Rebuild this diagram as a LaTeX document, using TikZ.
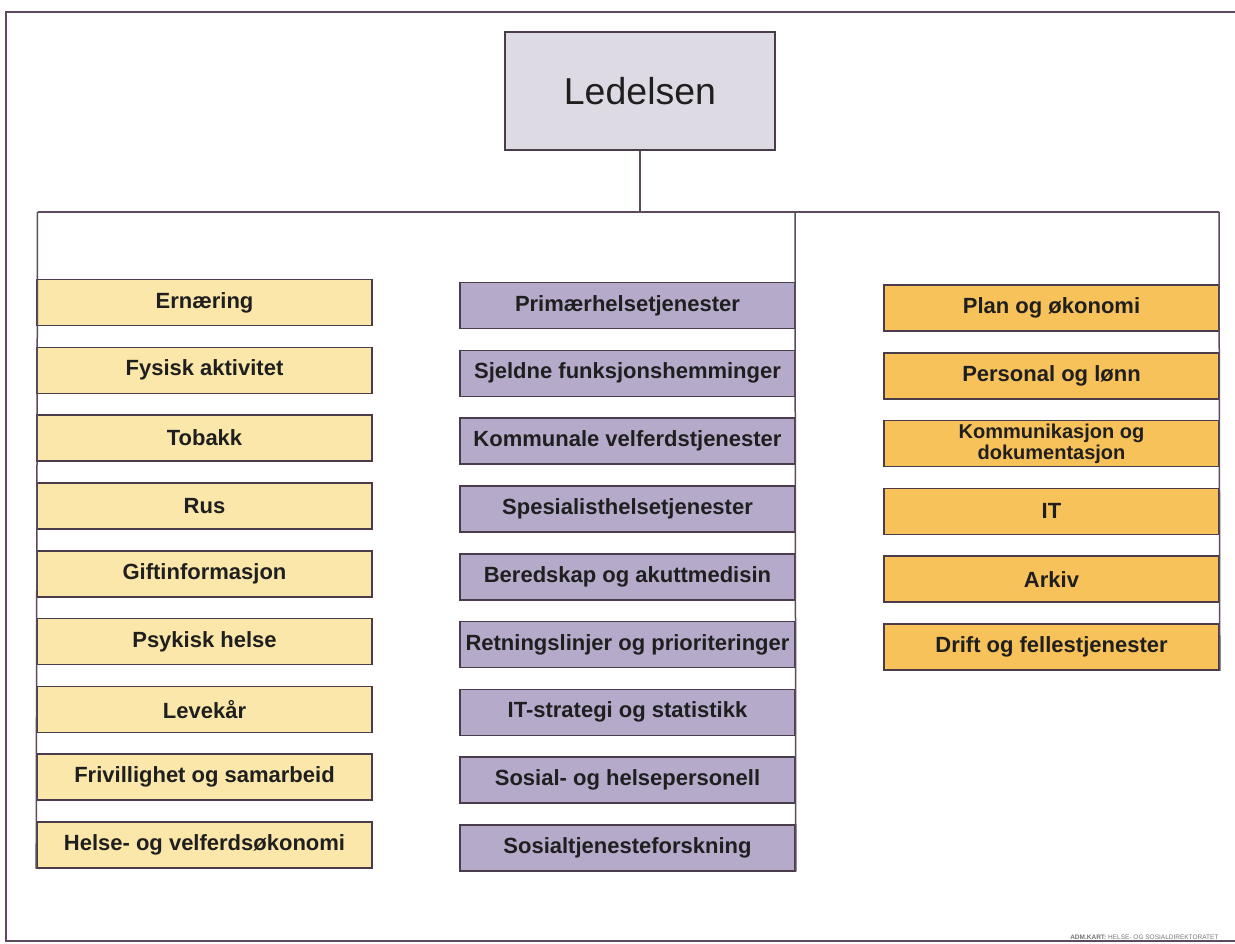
\documentclass[tikz,border=0pt]{standalone}
\usepackage{fontspec}
\setmainfont{Liberation Sans}
\usetikzlibrary{positioning}
\definecolor{boxline}{HTML}{4A3C4A}
\definecolor{treeline}{HTML}{5E4A5E}
\definecolor{topfill}{HTML}{DEDAE3}
\definecolor{paleyellow}{HTML}{FBE7A9}
\definecolor{lavender}{HTML}{B6AACB}
\definecolor{orangebox}{HTML}{F8C25A}
\tikzset{
    every node/.style={font=\bfseries\fontsize{22}{24}\selectfont, text=black!88},
    unitbox/.style={draw=boxline, line width=1.6pt, minimum width=335pt, minimum height=46pt, inner sep=0pt, align=center},
    yellowbox/.style={unitbox, fill=paleyellow},
    purplebox/.style={unitbox, fill=lavender},
    orangebx/.style={unitbox, fill=orangebox},
    topbox/.style={draw=boxline, fill=topfill, line width=1.6pt, minimum width=270pt, minimum height=118pt, inner sep=0pt, font=\fontsize{37.5}{40}\selectfont},
    tree/.style={draw=treeline, line width=1.5pt},
}

\begin{document}
\begin{tikzpicture}[x=1pt, y=-1pt, node distance=20.2pt]
\useasboundingbox (0,0) rectangle (1235,944);
% outer frame, open on the right
\draw[draw=treeline, line width=1.5pt] (1235,12) -- (6,12) -- (6,941) -- (1235,941);

% top of the chart
\node[topbox] (ledelsen) at (640,91) {Ledelsen};

% left column
\node[yellowbox] (ernaering) at (204.5,302.5) {Ernæring};
\node[yellowbox, below=of ernaering] (fysisk) {Fysisk aktivitet};
\node[yellowbox, below=of fysisk] (tobakk) {Tobakk};
\node[yellowbox, below=of tobakk] (rus) {Rus};
\node[yellowbox, below=of rus] (gift) {Giftinformasjon};
\node[yellowbox, below=of gift] (psykisk) {Psykisk helse};
\node[yellowbox, below=of psykisk] (levekaar) {Levekår};
\node[yellowbox, below=of levekaar] (frivillig) {Frivillighet og samarbeid};
\node[yellowbox, below=of frivillig] (okonomi) {Helse- og velferdsøkonomi};

% middle column
\node[purplebox] (primaer) at (627.5,305.5) {Primærhelsetjenester};
\node[purplebox, below=of primaer] (sjeldne) {Sjeldne funksjonshemminger};
\node[purplebox, below=of sjeldne] (kommunale) {Kommunale velferdstjenester};
\node[purplebox, below=of kommunale] (spesialist) {Spesialisthelsetjenester};
\node[purplebox, below=of spesialist] (beredskap) {Beredskap og akuttmedisin};
\node[purplebox, below=of beredskap] (retning) {Retningslinjer og prioriteringer};
\node[purplebox, below=of retning] (itstrategi) {IT-strategi og statistikk};
\node[purplebox, below=of itstrategi] (personell) {Sosial- og helsepersonell};
\node[purplebox, below=of personell] (forskning) {Sosialtjenesteforskning};

% right column
\node[orangebx] (plan) at (1051.5,308) {Plan og økonomi};
\node[orangebx, below=of plan] (personal) {Personal og lønn};
\node[orangebx, below=of personal, font=\bfseries\fontsize{20}{21}\selectfont] (kommunikasjon) {Kommunikasjon og\\dokumentasjon};
\node[orangebx, below=of kommunikasjon] (it) {IT};
\node[orangebx, below=of it] (arkiv) {Arkiv};
\node[orangebx, below=of arkiv] (drift) {Drift og fellestjenester};

% connecting bar
\coordinate (barC) at (640,212);
\coordinate (barL) at (37.5,212);
\coordinate (barM) at (795,212);
\coordinate (barR) at (1219,212);
\draw[tree] (ledelsen.south) -- (barC);
\draw[tree] (barL) -- (barR);
\draw[tree] (barL) -- (okonomi.south west);
\draw[tree] (barM) -- (forskning.south east);
\draw[tree] (barR) -- (drift.south east);

% footer
\node[font=\fontsize{6.5}{7}\selectfont, text=black!55, anchor=east] (footer) at (1222,937) {\textbf{ADM.KART:} \mdseries HELSE- OG SOSIALDIREKTORATET};
\end{tikzpicture}
\end{document}
